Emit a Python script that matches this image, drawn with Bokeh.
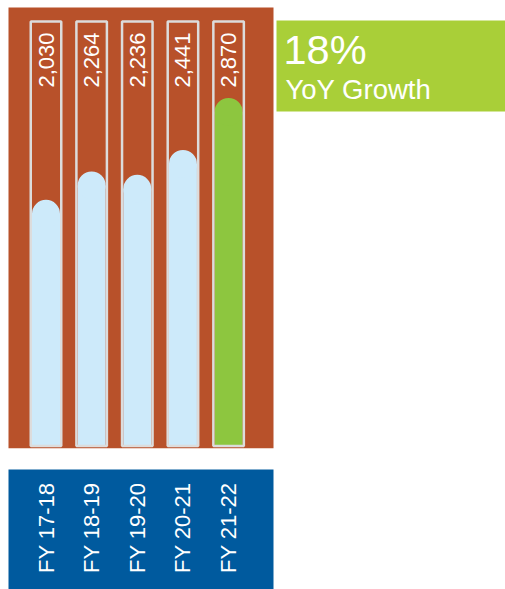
import math
from bokeh.plotting import figure
from bokeh.models import Range1d, ColumnDataSource
from bokeh.embed import file_html
from bokeh.resources import INLINE
from bokeh.core.properties import value

# ---------------- data ----------------
categories = ["FY 17-18", "FY 18-19", "FY 19-20", "FY 20-21", "FY 21-22"]
values = [2030, 2264, 2236, 2441, 2870]
value_labels = ["2,030", "2,264", "2,236", "2,441", "2,870"]
highlight = [False, False, False, False, True]
tube_max = 3500
growth_text = "18%"
growth_caption = "YoY Growth"

# ---------------- style / layout ----------------
W, H = 505, 589
PX_X = 45.65                 # pixels per category step
PX_Y = 424.5 / tube_max      # pixels per value unit
X0_PX = 45.5                 # pixel position of first category
ZERO_PX = 445.5              # pixel (from top) of value 0

ORANGE = "#b8512a"
BLUE = "#005a9e"
LIGHTBLUE = "#cdeafa"
GREEN_BAR = "#8dc63f"
GREEN_BOX = "#a9cf38"
TUBE_LINE = "#dcdcdc"
FONT = "Liberation Sans"

x_start = 1 - X0_PX / PX_X
x_end = x_start + W / PX_X
y_end = ZERO_PX / PX_Y
y_start = -(H - ZERO_PX) / PX_Y


def dx(px):
    return x_start + px / PX_X


def dy(py):
    return (ZERO_PX - py) / PX_Y


xs = list(range(1, len(categories) + 1))
CAP_R = 14  # px
body_w = 2 * CAP_R / PX_X
tube_w = 30.5 / PX_X

src = ColumnDataSource(dict(
    x=xs,
    v=values,
    label=value_labels,
    cat=categories,
    body_top=[v - CAP_R / PX_Y for v in values],
    color=[GREEN_BAR if h else LIGHTBLUE for h in highlight],
))

p = figure(width=W, height=H, x_range=Range1d(x_start, x_end),
           y_range=Range1d(y_start, y_end), output_backend="svg",
           toolbar_location=None, min_border=0,
           x_axis_location=None, y_axis_location=None)
p.grid.visible = False
p.outline_line_color = None
p.background_fill_color = "white"
p.border_fill_color = "white"

# orange chart panel
p.quad(left=[dx(8)], right=[dx(273)], bottom=[dy(447.7)], top=[dy(7)],
       fill_color=ORANGE, line_color=None)
# blue label panel
p.quad(left=[dx(8)], right=[dx(273)], bottom=[y_start], top=[dy(469)],
       fill_color=BLUE, line_color=None)
# green growth box
p.quad(left=[dx(276)], right=[x_end], bottom=[dy(111)], top=[dy(20)],
       fill_color=GREEN_BOX, line_color=None)

# bar bodies + rounded caps
p.vbar(x="x", bottom=0, top="body_top", width=body_w, source=src,
       fill_color="color", line_color=None)
p.scatter(x="x", y="body_top", size=2 * CAP_R, marker="circle", source=src,
          fill_color="color", line_color=None)
# tube outlines
p.vbar(x="x", bottom=0, top=tube_max, width=tube_w, source=src,
       fill_color=None, line_color=TUBE_LINE, line_width=2.5)

# value labels (rotated)
p.text(x="x", y=tube_max, text="label", source=src, angle=math.pi / 2,
       text_align="right", text_baseline="middle", y_offset=11,
       text_color="white", text_font=value(FONT), text_font_size="22px")

# category labels (rotated)
p.text(x="x", y=0, text="cat", source=src, angle=math.pi / 2,
       text_align="left", text_baseline="middle", y_offset=127,
       text_color="white", text_font=value(FONT), text_font_size="22px")

# growth box texts
p.text(x=[dx(276)], y=[tube_max], text=[growth_text], x_offset=7,
       y_offset=28, text_align="left", text_baseline="alphabetic",
       text_color="white", text_font=value(FONT), text_font_size="41.5px")
p.text(x=[dx(276)], y=[tube_max], text=[growth_caption], x_offset=9,
       y_offset=68, text_align="left", text_baseline="alphabetic",
       text_color="white", text_font=value(FONT), text_font_size="27.5px")

open("out.html", "w").write(file_html(p, INLINE))
